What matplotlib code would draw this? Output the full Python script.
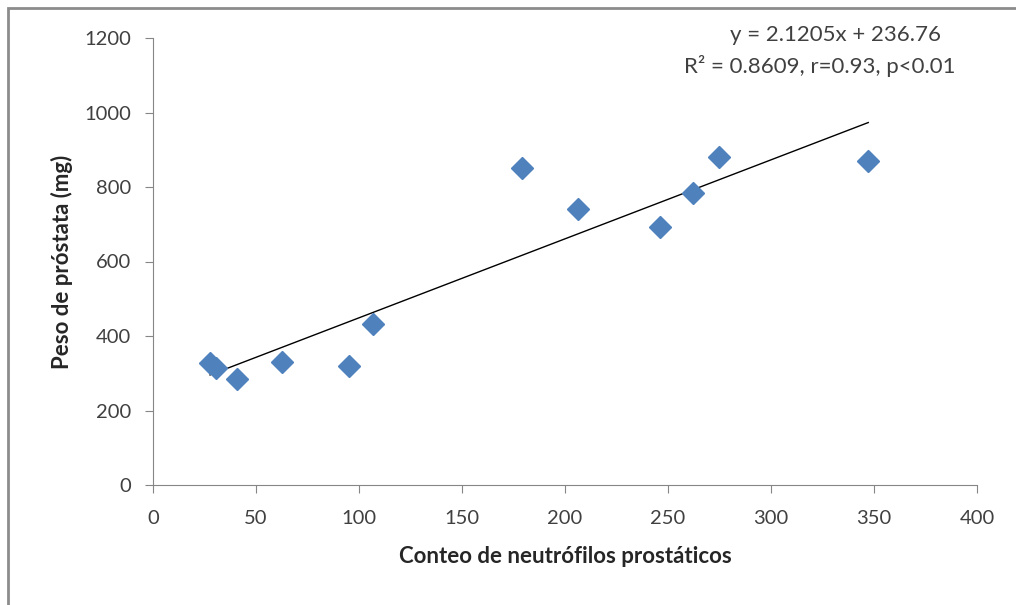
import numpy as np
import matplotlib.pyplot as plt
from matplotlib.patches import Rectangle

# data
neutrofilos = [27.7, 30.6, 40.6, 62.8, 95.1, 106.9, 179.3, 206.5, 246.1, 262.3, 274.9, 347.2]
peso = [328, 314, 284, 331, 320, 431, 850, 741, 692, 783, 881, 871]
slope, intercept = 2.1205, 236.76
x_ticks = [0, 50, 100, 150, 200, 250, 300, 350, 400]
y_ticks = [0, 200, 400, 600, 800, 1000, 1200]

plt.rcParams['font.family'] = ['Lato', 'DejaVu Sans']

fig = plt.figure(figsize=(10.16, 6.05), dpi=100)
ax = fig.add_axes([153/1016, 1 - 485/605, (977 - 153)/1016, (485 - 38)/605])

# outer chart border
fig.patches.append(Rectangle((8/1016, -0.05), 1.2, 1 - 8/605 + 0.05,
                             transform=fig.transFigure, fill=False,
                             edgecolor='#8c8c8c', lw=2))

ax.plot(neutrofilos, peso, 'D', color='#4f81bd', ms=11, mec='#4f81bd', zorder=3)

xl = np.array([min(neutrofilos), max(neutrofilos)])
ax.plot(xl, slope * xl + intercept, color='black', lw=1, zorder=2)

ax.set_xlim(0, 400)
ax.set_ylim(0, 1200)
ax.set_xticks(x_ticks)
ax.set_yticks(y_ticks)
for s in ['top', 'right']:
    ax.spines[s].set_visible(False)
for s in ['left', 'bottom']:
    ax.spines[s].set_color('#868686')
ax.tick_params(colors='#868686', labelcolor='#404040', labelsize=14.5, length=6, direction='out')
ax.tick_params(axis='x', pad=12)
ax.tick_params(axis='y', pad=10)

ax.set_xlabel('Conteo de neutrófilos prostáticos', fontsize=16, fontweight='bold', color='#262626', labelpad=14)
ax.set_ylabel('Peso de próstata (mg)', fontsize=16, fontweight='bold', color='#262626', labelpad=8)

ax.text(835/1016, 1 - 35/605, 'y = 2.1205x + 236.76', transform=fig.transFigure,
        ha='center', va='center', fontsize=16, color='#404040')
ax.text(820/1016, 1 - 66/605, 'R² = 0.8609, r=0.93, p<0.01', transform=fig.transFigure,
        ha='center', va='center', fontsize=16, color='#404040')

fig.savefig('out.png', dpi=100)
